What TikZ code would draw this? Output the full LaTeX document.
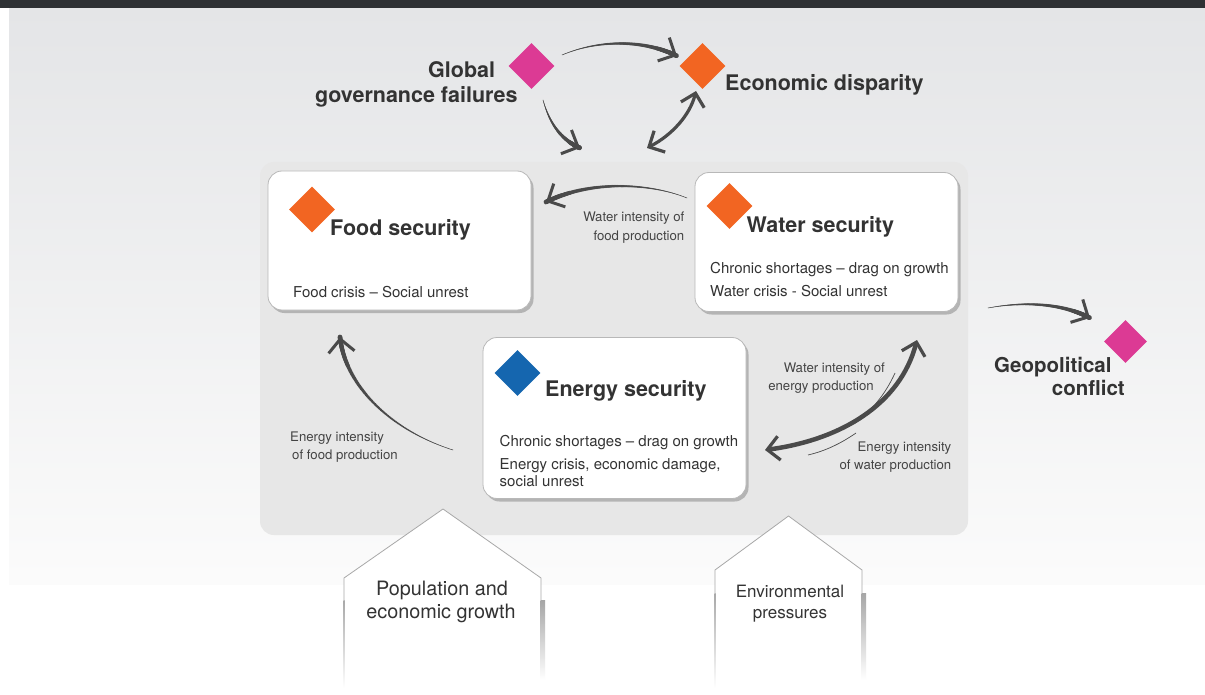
\documentclass[tikz,border=0pt]{standalone}
\usepackage{fontspec}
\setmainfont{TeX Gyre Heros}
\usetikzlibrary{arrows.meta,shapes.geometric,shadows,decorations.markings}
\definecolor{barcol}{HTML}{2E3134}
\definecolor{bgtop}{HTML}{E4E5E7}
\definecolor{panelcol}{HTML}{E7E7E7}
\definecolor{arr}{HTML}{4A4A4A}
\definecolor{txt}{HTML}{333333}
\definecolor{lbl}{HTML}{444444}
\definecolor{dorange}{HTML}{F26522}
\definecolor{dpink}{HTML}{DC3A94}
\definecolor{dblue}{HTML}{1566AF}
\definecolor{edge}{HTML}{B8B8B8}
\definecolor{pent}{HTML}{A8A8A8}
\tikzset{
 box/.style={draw=edge, line width=0.8pt, fill=white, rounded corners=14pt, minimum width=263pt, inner sep=0pt,
   drop shadow={shadow xshift=2.5pt, shadow yshift=-3pt, fill=black, opacity=0.22}},
 gem/.style={diamond, minimum size=46pt, inner sep=0pt},
 head/.style={font=\fontsize{21.5}{25}\selectfont\bfseries, text=txt, inner sep=0pt},
 body/.style={font=\fontsize{15}{18}\selectfont, text=txt, inner sep=0pt},
 lab/.style={font=\fontsize{13.2}{16}\selectfont, text=lbl, inner sep=0pt},
 big/.style={font=\fontsize{19.8}{23}\selectfont, text=txt, inner sep=0pt},
 taper/.style={draw=arr, line width=0.5pt, -{Straight Barb[length=13pt, width=26pt, line width=3pt]},
   decoration={markings, mark=between positions 0 and 1 step 0.005 with
     {\fill[arr] (0,0) circle[radius={0.1+0.0115*\pgfkeysvalueof{/pgf/decoration/mark info/sequence number}}];}},
   postaction={decorate}},
 dbl/.style={draw=arr, line width=#1,
   {Straight Barb[length=12pt,width=24pt,line width=3.2pt]}-{Straight Barb[length=12pt,width=24pt,line width=3.2pt]}},
 thinline/.style={draw=arr, line width=0.7pt},
}
\begin{document}
\begin{tikzpicture}[x=1pt,y=-1pt]
\useasboundingbox (0,0) rectangle (1205,695);
\fill[white] (0,0) rectangle (1205,695);
% background
\shade[top color=bgtop, bottom color=black!1.5] (9,8) rectangle (1205,584);
\fill[barcol] (0,0) rectangle (1205,8);
% panel
\fill[panelcol, rounded corners=14pt] (260,162) rectangle (968,535);

% boxes
\node[box, minimum height=139pt] (food) at (399.5,240.5) {};
\node[box, minimum height=139pt] (water) at (826.5,242) {};
\node[box, minimum height=161pt] (energy) at (614.5,418) {};

% diamonds
\node[gem, fill=dorange] (dfood) at (312,209.5) {};
\node[gem, fill=dorange] (dwater) at (729.5,206) {};
\node[gem, fill=dblue] (denergy) at (517.5,373) {};
\node[gem, fill=dpink] (dglobal) at (531.5,66) {};
\node[gem, fill=dorange] (decon) at (702.5,66) {};
\node[gem, fill=dpink, minimum size=43pt] (dgeo) at (1125.5,341.5) {};

% box texts
\node[head, anchor=base west] (tfood) at (330,236) {Food security};
\node[body, anchor=base west] (tfood1) at (293,297) {Food crisis – Social unrest};
\node[head, anchor=base west] (twater) at (746.5,232.5) {Water security};
\node[body, anchor=base west] (twater1) at (710,273) {Chronic shortages – drag on growth};
\node[body, anchor=base west] (twater2) at (710,296) {Water crisis - Social unrest};
\node[head, anchor=base west] (tenergy) at (545,396.5) {Energy security};
\node[body, anchor=base west] (tenergy1) at (499.5,446) {Chronic shortages – drag on growth};
\node[body, anchor=base west] (tenergy2) at (499.5,469.5) {Energy crisis, economic damage,};
\node[body, anchor=base west] (tenergy3) at (499.5,486.5) {social unrest};

% outer texts
\node[head, anchor=base west] (tglob1) at (428,78) {Global};
\node[head, anchor=base west] (tglob2) at (315,103) {governance failures};
\node[head, anchor=base west] (tecon) at (725,91) {Economic disparity};
\node[head, font=\fontsize{20.5}{25}\selectfont\bfseries, anchor=base west] (tgeo1) at (994,372.5) {Geopolitical};
\node[head, font=\fontsize{20.5}{25}\selectfont\bfseries, anchor=base east] (tgeo2) at (1125,395.5) {conflict};

% small labels
\node[lab, anchor=base east] (lwf1) at (684.5,221.5) {Water intensity of};
\node[lab, anchor=base east] (lwf2) at (684.5,240.5) {food production};
\node[lab, anchor=base east] (lwe1) at (885,372.5) {Water intensity of};
\node[lab, anchor=base east] (lwe2) at (874,390.5) {energy production};
\node[lab, anchor=base east] (lew1) at (951.5,451.5) {Energy intensity};
\node[lab, anchor=base east] (lew2) at (951.5,469.5) {of water production};
\node[lab, anchor=base west] (lef1) at (290,441.5) {Energy intensity};
\node[lab, anchor=base west] (lef2) at (292,459.5) {of food production};

% bottom driver arrows
\fill[white] (344,578) -- (443,509) -- (541,578) -- (541,695) -- (344,695) -- cycle;
\draw[pent, line width=0.8pt, line join=round] (344,602) -- (344,578) -- (443,509) -- (541,578) -- (541,602);
\shade[top color=pent, bottom color=white] (343.6,600) rectangle (344.5,688);
\shade[top color=black!35, bottom color=white] (540.6,600) rectangle (545,680);
\node[big, anchor=base] (tpop1) at (442,595) {Population and};
\node[big, anchor=base] (tpop2) at (441,618) {economic growth};

\fill[white] (715,570) -- (788.5,516) -- (862,570) -- (862,695) -- (715,695) -- cycle;
\draw[pent, line width=0.8pt, line join=round] (715,595) -- (715,570) -- (788.5,516) -- (862,570) -- (862,595);
\shade[top color=pent, bottom color=white] (714.6,593) rectangle (715.5,688);
\shade[top color=black!35, bottom color=white] (861.6,593) rectangle (866,680);
\node[big, font=\fontsize{17}{21}\selectfont, anchor=base] (tenv1) at (790,597) {Environmental};
\node[big, font=\fontsize{17}{21}\selectfont, anchor=base] (tenv2) at (790,618) {pressures};

% connectors
\coordinate (a1s) at (562,55);   \coordinate (a1e) at (677,56);
\coordinate (a2s) at (543,100);  \coordinate (a2e) at (580,148);
\coordinate (a3s) at (647,148);  \coordinate (a3e) at (696,91);
\coordinate (a4s) at (687,198);  \coordinate (a4e) at (546,202);
\coordinate (a5s) at (453,450);  \coordinate (a5e) at (340,337);
\coordinate (a6s) at (988,308);  \coordinate (a6e) at (1090,318);
\coordinate (a7s) at (765,450);  \coordinate (a7e) at (917,340);

\draw[taper] (a1s) .. controls (600,39) and (645,40) .. (a1e);
\draw[taper] (a2s) .. controls (550,125) and (562,140) .. (a2e);
\draw[dbl=3.2pt] (a3s) .. controls (672,135) and (690,115) .. (a3e);
\draw[taper] (a4s) .. controls (650,183) and (590,180) .. (a4e);
\draw[taper] (a5s) .. controls (390,430) and (345,385) .. (a5e);
\draw[taper] (a6s) .. controls (1020,302) and (1060,302) .. (a6e);
\draw[dbl=4.5pt] (a7s) .. controls (840,440) and (900,405) .. (a7e);
\draw[thinline] (895,373) .. controls (885,395) and (872,410) .. (855,423);
\draw[thinline] (808,455) .. controls (825,451) and (840,444) .. (856,433);
\end{tikzpicture}
\end{document}
